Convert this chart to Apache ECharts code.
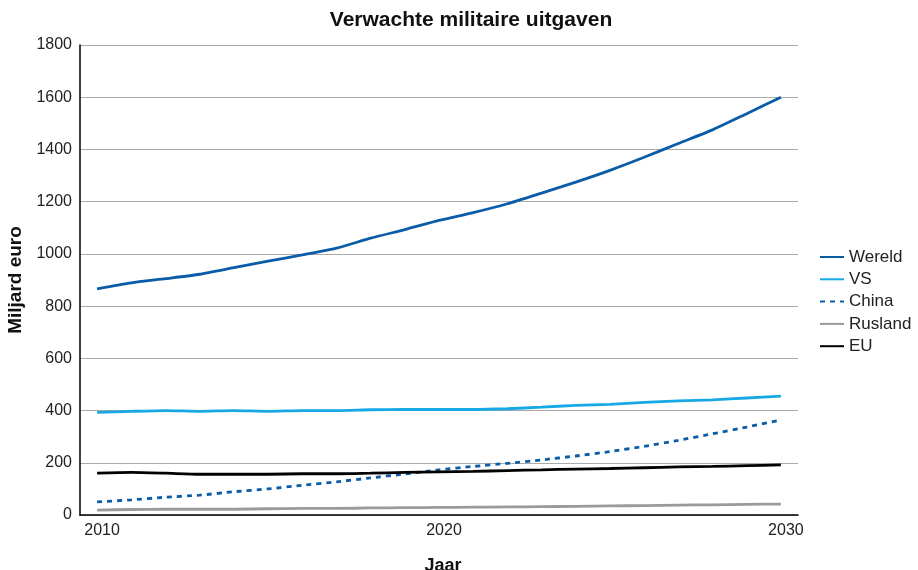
<!DOCTYPE html>
<html>
<head>
<meta charset="utf-8">
<script src="https://cdn.jsdelivr.net/npm/echarts@6/dist/echarts.min.js"></script>
<style>html,body{margin:0;padding:0;background:#fff}#c{width:918px;height:570px}</style>
</head>
<body>
<div id="c"></div>
<script>
// Years on the x axis
const years = [];
for (let y = 2010; y <= 2030; y++) years.push(String(y));

// Expected military spending, billion euro
const wereld  = [866, 889, 905, 922, 947, 972, 996, 1022, 1060, 1093, 1128, 1158, 1192, 1233, 1275, 1320, 1370, 1423, 1475, 1537, 1600];
const vs      = [393, 397, 400, 397, 400, 397, 400, 400, 403, 404, 404, 404, 407, 413, 420, 424, 431, 437, 441, 448, 455];
const china   = [50, 58, 68, 76, 89, 100, 114, 127, 142, 157, 173, 186, 198, 211, 226, 243, 263, 286, 311, 337, 364];
const rusland = [19, 21, 22, 22, 22, 24, 25, 25, 27, 28, 29, 30, 31, 32, 33, 35, 36, 38, 39, 41, 42];
const eu      = [160, 163, 160, 156, 156, 156, 158, 158, 160, 163, 165, 167, 170, 173, 176, 178, 181, 184, 186, 189, 192];

const FONT = '"Liberation Sans", Arial, sans-serif';

function line(name, data, color, type) {
  return {
    name, type: 'line', data, symbol: 'none', smooth: 0.2,
    lineStyle: { color, width: 2.8, type: type || 'solid' },
    itemStyle: { color },
    emphasis: { disabled: true }
  };
}

const chart = echarts.init(document.getElementById('c'));
chart.setOption({
  animation: false,
  textStyle: { fontFamily: FONT },
  title: {
    text: 'Verwachte militaire uitgaven',
    left: 466, top: 5, textAlign: 'center',
    textStyle: { fontSize: 21, fontWeight: 'bold', color: '#111', fontFamily: FONT }
  },
  legend: {
    orient: 'vertical', left: 814, top: 241,
    itemWidth: 24, itemHeight: 3, itemGap: 0.3,
    itemStyle: { opacity: 0 },
    textStyle: { fontSize: 17, lineHeight: 22, color: '#222', fontFamily: FONT },
    data: ['Wereld', 'VS', 'China', 'Rusland', 'EU']
  },
  grid: { left: 80, right: 120, top: 45, bottom: 55, containLabel: false, outerBoundsMode: 'none' },
  xAxis: {
    type: 'category', data: years, boundaryGap: true,
    name: 'Jaar', nameLocation: 'middle', nameGap: 42,
    nameTextStyle: { fontSize: 18, fontWeight: 'bold', color: '#111', padding: [0, 0, 0, 8] },
    axisLine: { lineStyle: { color: '#000', width: 1.5 } },
    axisTick: { show: false },
    axisLabel: { interval: 9, fontSize: 16, color: '#222', margin: 8, padding: [0, 0, 0, 10] },
    splitLine: { show: false }
  },
  yAxis: {
    type: 'value', min: 0, max: 1800, interval: 200,
    name: 'Miljard euro', nameLocation: 'middle', nameGap: 54, nameRotate: 90,
    nameTextStyle: { fontSize: 19, fontWeight: 'bold', color: '#111' },
    axisLine: { show: true, lineStyle: { color: '#000', width: 1.5 } },
    axisTick: { show: false },
    axisLabel: { fontSize: 16, color: '#222', margin: 8, formatter: v => String(v) },
    splitLine: { lineStyle: { color: '#aaa', width: 1 } }
  },
  series: [
    line('Wereld', wereld, '#0b5ca8'),
    line('VS', vs, '#17a8e6'),
    line('China', china, '#0b5ca8', [5, 5]),
    line('Rusland', rusland, '#9a9a9a'),
    line('EU', eu, '#000000')
  ]
});
</script>
</body>
</html>
